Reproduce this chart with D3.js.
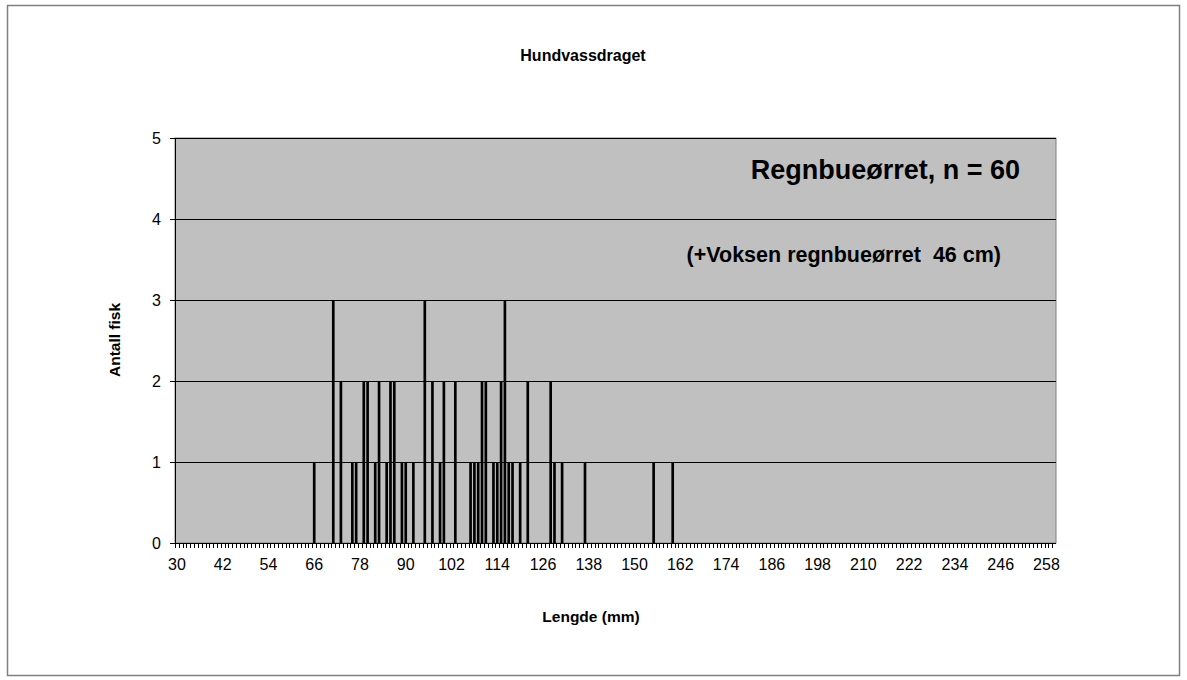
<!DOCTYPE html>
<html>
<head>
<meta charset="utf-8">
<script src="https://d3js.org/d3.v7.min.js"></script>
<style>
  body { margin: 0; background: #fff; }
  text { font-family: "Liberation Sans", Arial, sans-serif; }
</style>
</head>
<body>
<div id="chart"></div>
<script>
// data
const lengths = [66, 71, 73, 76, 77, 79, 80, 82, 83, 85, 86, 87, 89, 90, 92, 95, 97, 99, 100, 103,
  107, 108, 109, 110, 111, 113, 114, 115, 116, 117, 118, 120, 122, 128, 129, 131, 137, 155, 160];
const counts = [1, 3, 2, 1, 1, 2, 2, 1, 2, 1, 2, 2, 1, 1, 1, 3, 2, 1, 2, 2,
  1, 1, 1, 2, 2, 1, 1, 2, 3, 1, 1, 1, 2, 2, 1, 1, 1, 1, 1];
const categories = d3.range(30, 261);          // 30 .. 260 mm
const xTickLabels = d3.range(30, 261, 12);     // 30, 42, ... 258
const yTicks = [0, 1, 2, 3, 4, 5];

const width = 1187;
const height = 680;

const svg = d3.select('#chart').append('svg')
  .attr('width', width)
  .attr('height', height);

// outer chart frame
svg.append('rect')
  .attr('x', 7.5).attr('y', 5.5)
  .attr('width', 1172).attr('height', 670)
  .attr('fill', '#fff')
  .attr('stroke', '#808080')
  .attr('stroke-width', 1.5);

const plot = { left: 175, right: 1056, top: 138, bottom: 543 };

const x = d3.scaleBand()
  .domain(categories)
  .range([plot.left, plot.right])
  .paddingInner(0.3)
  .paddingOuter(0.15);

const y = d3.scaleLinear()
  .domain([0, 5])
  .range([plot.bottom, plot.top]);

// plot background
svg.append('rect')
  .attr('x', plot.left).attr('y', plot.top)
  .attr('width', plot.right - plot.left)
  .attr('height', plot.bottom - plot.top)
  .attr('fill', '#c0c0c0')
  .attr('stroke', '#808080');

// gridlines
svg.append('g')
  .selectAll('line')
  .data(yTicks.filter(d => d > 0))
  .join('line')
  .attr('x1', plot.left).attr('x2', plot.right)
  .attr('y1', d => Math.round(y(d)) + 0.5)
  .attr('y2', d => Math.round(y(d)) + 0.5)
  .attr('stroke', '#000')
  .attr('stroke-width', 1);

// bars
const barData = lengths.map((l, i) => ({ len: l, n: counts[i] }));
svg.append('g')
  .selectAll('rect')
  .data(barData)
  .join('rect')
  .attr('x', d => x(d.len))
  .attr('width', x.bandwidth())
  .attr('y', d => y(d.n))
  .attr('height', d => y(0) - y(d.n))
  .attr('fill', '#000');

// y axis
const yAxis = svg.append('g')
  .attr('transform', 'translate(' + plot.left + ',0)')
  .call(d3.axisLeft(y).tickValues(yTicks).tickSize(5).tickPadding(9).tickFormat(d3.format('d')));
yAxis.select('.domain').attr('stroke', '#000');
yAxis.selectAll('text').style('font-size', '16px').attr('fill', '#000');

// x axis: a minor tick between every category
const bw = x.step();
const xAxisG = svg.append('g');
xAxisG.append('line')
  .attr('x1', plot.left).attr('x2', plot.right)
  .attr('y1', plot.bottom + 0.5).attr('y2', plot.bottom + 0.5)
  .attr('stroke', '#000');
xAxisG.selectAll('line.tick')
  .data(categories)
  .join('line')
  .attr('class', 'tick')
  .attr('x1', d => Math.round(x(d) - bw * 0.15) + 0.5)
  .attr('x2', d => Math.round(x(d) - bw * 0.15) + 0.5)
  .attr('y1', plot.bottom)
  .attr('y2', plot.bottom + 5)
  .attr('stroke', '#000');
xAxisG.selectAll('text')
  .data(xTickLabels)
  .join('text')
  .attr('x', d => x(d) + x.bandwidth() / 2)
  .attr('y', plot.bottom + 27)
  .style('text-anchor', 'middle')
  .style('font-size', '16px')
  .text(d => d);

// titles
svg.append('text')
  .attr('x', 583).attr('y', 61)
  .style('text-anchor', 'middle')
  .style('font-size', '16px')
  .style('font-weight', 'bold')
  .text('Hundvassdraget');

svg.append('text')
  .attr('x', 591).attr('y', 622)
  .style('text-anchor', 'middle')
  .style('font-size', '15.5px')
  .style('font-weight', 'bold')
  .text('Lengde (mm)');

svg.append('text')
  .attr('transform', 'translate(120,340) rotate(-90)')
  .style('text-anchor', 'middle')
  .style('font-size', '15.5px')
  .style('font-weight', 'bold')
  .text('Antall fisk');

svg.append('text')
  .attr('x', 1020).attr('y', 179)
  .style('text-anchor', 'end')
  .style('font-size', '27px')
  .style('font-weight', 'bold')
  .text('Regnbueørret, n = 60');

svg.append('text')
  .attr('x', 1001).attr('y', 262)
  .style('text-anchor', 'end')
  .style('font-size', '21.5px')
  .style('font-weight', 'bold')
  .style('white-space', 'pre')
  .attr('xml:space', 'preserve')
  .text('(+Voksen regnbueørret  46 cm)');
</script>
</body>
</html>
